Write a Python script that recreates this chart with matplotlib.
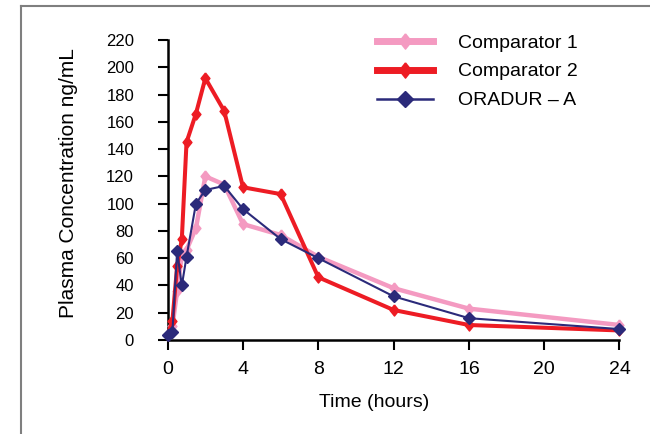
import matplotlib
matplotlib.use("Agg")
import matplotlib.pyplot as plt
from matplotlib.lines import Line2D

# ---- data ----
time_hours = [0, 0.25, 0.5, 0.75, 1, 1.5, 2, 3, 4, 6, 8, 12, 16, 24]
comparator_1 = [4, 10, 36, 62, 66, 82, 120, 114, 85, 77, 61, 38, 23, 11]
comparator_2 = [4, 14, 54, 74, 145, 166, 192, 168, 112, 107, 46, 22, 11, 7]
oradur_a = [4, 6, 65, 40, 61, 100, 110, 113, 96, 74, 60, 32, 16, 8]
series_names = ["Comparator 1", "Comparator 2", "ORADUR \u2013 A"]
x_ticks = [0, 4, 8, 12, 16, 20, 24]
y_ticks = list(range(0, 221, 20))

PINK = "#F49AC1"
RED = "#ED1C24"
NAVY = "#2B2A7A"

plt.rcParams["font.family"] = ["Liberation Sans", "DejaVu Sans"]

fig = plt.figure(figsize=(6.5, 4.34), dpi=100)
W, H = 650, 434
x0, x1 = 167.7, 619.5
y0, y1 = 340, 40
ax = fig.add_axes([x0 / W, 1 - y0 / H, (x1 - x0) / W, (y0 - y1) / H])

dia = [(0, 1), (0.8, 0), (0, -1), (-0.8, 0), (0, 1)]

ax.plot(time_hours, comparator_1, color=PINK, lw=3.2, marker=dia, ms=8,
        clip_on=False, zorder=3)
ax.plot(time_hours, comparator_2, color=RED, lw=2.9, marker=dia, ms=8,
        clip_on=False, zorder=4)
ax.plot(time_hours, oradur_a, color=NAVY, lw=1.5, marker="D", ms=6,
        clip_on=False, zorder=5)

ax.set_xlim(0, 24)
ax.set_ylim(0, 220)
ax.set_xticks(x_ticks)
ax.set_yticks(y_ticks)
for s in ["top", "right"]:
    ax.spines[s].set_visible(False)
for s in ["left", "bottom"]:
    ax.spines[s].set_linewidth(1.8)
    ax.spines[s].set_color("black")
ax.tick_params(axis="both", direction="out", length=7.2, width=1.5, color="black")
ax.tick_params(axis="y", labelsize=12, pad=17)
ax.tick_params(axis="x", labelsize=14, pad=8)

ax.set_ylabel("Plasma Concentration ng/mL", fontsize=15)
ax.yaxis.label.set_horizontalalignment("center")
ax.yaxis.label.set_verticalalignment("center")
ax.yaxis.set_label_coords((68.5 - x0) / (x1 - x0), (340 - 183) / 300)
ax.set_xlabel("Time (hours)", fontsize=14)
ax.xaxis.label.set_verticalalignment("center")
ax.xaxis.set_label_coords((374 - x0) / (x1 - x0), (340 - 402.7) / 300)

handles = [
    Line2D([], [], color=PINK, lw=5, marker=dia, ms=11),
    Line2D([], [], color=RED, lw=5, marker=dia, ms=11),
    Line2D([], [], color=NAVY, lw=1.8, marker="D", ms=8),
]
fig.legend(handles, series_names, loc="upper left",
           bbox_to_anchor=(376.7 / W, 1 - 34 / H), frameon=False,
           fontsize=14, handlelength=2.9, handletextpad=1.3,
           labelspacing=0.58, borderpad=0, borderaxespad=0)

# outer frame (top and left edges visible)
fig.add_artist(Line2D([21 / W, 1], [1 - 6 / H, 1 - 6 / H], color="#7f7f7f", lw=1.5))
fig.add_artist(Line2D([21 / W, 21 / W], [0, 1 - 6 / H], color="#7f7f7f", lw=1.5))

fig.savefig("out.png", dpi=100)
